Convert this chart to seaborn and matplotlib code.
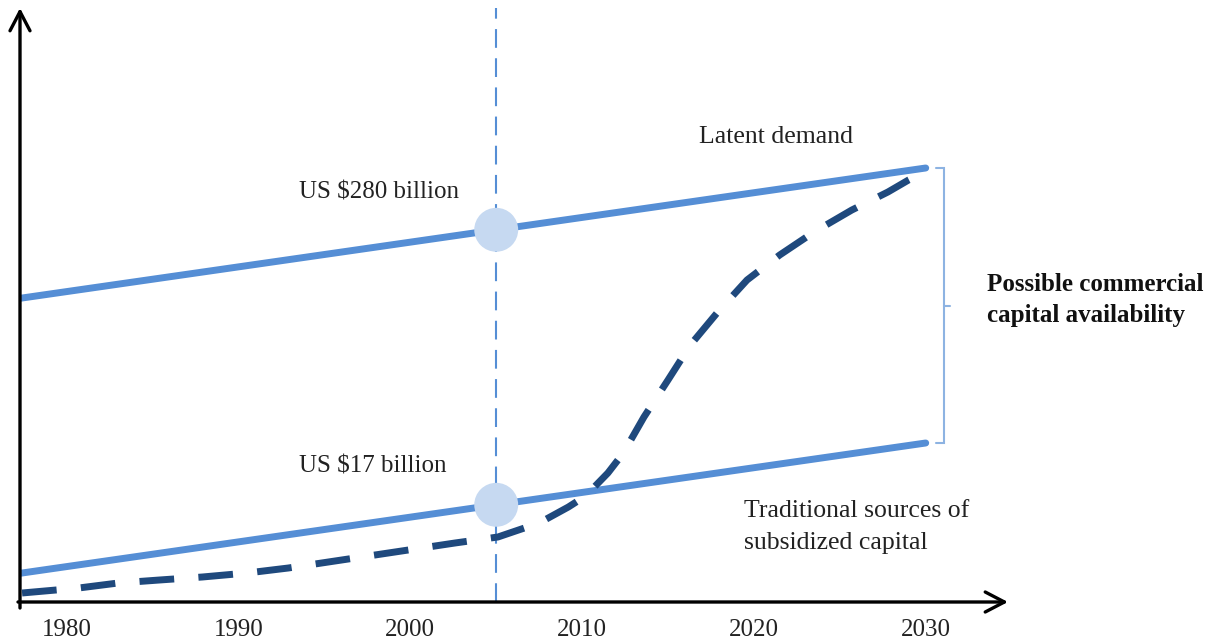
import matplotlib
matplotlib.use("Agg")
import matplotlib.pyplot as plt
import seaborn as sns
import pandas as pd

# ---------------- data ----------------
tick_years = [1980, 1990, 2000, 2010, 2020, 2030]
tick_labels = ["1980", "1990", "2000", "2010", "2020", "2030"]

line_years = [1977, 2030]
latent_demand = [303, 434]
traditional = [28, 159]

curve_years = [1977.4, 1980.7, 1983.0, 1985.4, 1987.9, 1990.5, 1992.9, 2002.6,
               2005.1, 2007.5, 2009.2, 2010.2, 2011.5, 2012.4, 2013.6, 2015.0,
               2016.3, 2017.9, 2019.6, 2021.5, 2023.5, 2025.7, 2027.8, 2029.0,
               2029.7]
curve_values = [9, 14, 19, 22, 25, 29, 34, 59,
                65, 79, 95, 106, 129, 149, 185, 222,
                257, 290, 322, 347, 370, 392, 410, 422,
                428]

marker_year = 2005
marker_values = [latent_demand[0] + (latent_demand[1] - latent_demand[0]) * (marker_year - line_years[0]) / (line_years[1] - line_years[0]),
                 traditional[0] + (traditional[1] - traditional[0]) * (marker_year - line_years[0]) / (line_years[1] - line_years[0])]

label_high = "US $280 billion"
label_low = "US $17 billion"
label_latent = "Latent demand"
label_trad = "Traditional sources of\nsubsidized capital"
label_possible = "Possible commercial\ncapital availability"

# ---------------- style ----------------
sns.set_theme(style="white")
plt.rcParams['font.family'] = ['Liberation Serif', 'DejaVu Serif']

LINE_BLUE = "#558ED5"
DARK_BLUE = "#1F497D"
CIRCLE = "#C6D9F1"
BRACKET = "#8DB3E2"

W, H = 1212, 642
fig = plt.figure(figsize=(W / 100, H / 100), dpi=100)
fig.patch.set_facecolor("white")

# axes box in pixels: left 20, right 1008, bottom 602, top 8
x0, x1, yb, yt = 20, 1008, 602, 8
ax = fig.add_axes([x0 / W, (H - yb) / H, (x1 - x0) / W, (yb - yt) / H])
px_per_year = (924 - 65) / 50.0
ax.set_xlim(1980 - (65 - x0) / px_per_year - 0.1, 1980 + (x1 - 65) / px_per_year - 0.1)
ax.set_ylim(0, yb - yt)
ax.set_facecolor("none")
for s in ax.spines.values():
    s.set_visible(False)

# lines
df_lines = pd.DataFrame({"year": line_years * 2,
                         "value": latent_demand + traditional,
                         "series": ["Latent demand"] * 2 + ["Traditional"] * 2})
sns.lineplot(data=df_lines, x="year", y="value", units="series", estimator=None,
             color=LINE_BLUE, lw=5, ax=ax, legend=False, zorder=3)

df_curve = pd.DataFrame({"year": curve_years, "value": curve_values})
sns.lineplot(data=df_curve, x="year", y="value", color=DARK_BLUE, lw=5,
             linestyle=(0, (5.0, 3.5)), ax=ax, legend=False, zorder=4)

# vertical dashed line
ax.axvline(marker_year, color=LINE_BLUE, lw=1.5, linestyle=(0, (9, 5)), zorder=2)

# circles
sns.scatterplot(x=[marker_year] * 2, y=marker_values, s=1000, color=CIRCLE,
                edgecolor="none", ax=ax, zorder=5, legend=False)

# bracket
bx = line_years[1] + 1.05
bl = line_years[1] + 0.6
br = line_years[1] + 1.4
mid = (latent_demand[1] + traditional[1]) / 2
ax.plot([bl, bx, bx, bl], [latent_demand[1], latent_demand[1], traditional[1], traditional[1]],
        color=BRACKET, lw=1.5, clip_on=False, solid_joinstyle="miter")
ax.plot([bx, br], [mid, mid], color=BRACKET, lw=1.5, clip_on=False)

# axes arrows
arrow = dict(arrowstyle="->,head_length=1.15,head_width=0.6", lw=2.4, color="black",
             shrinkA=0, shrinkB=0)
ax.annotate("", xy=(0, 1), xytext=(0, -6 / (yb - yt)), xycoords="axes fraction",
            arrowprops=arrow, annotation_clip=False)
ax.annotate("", xy=(1, 0), xytext=(-2 / (x1 - x0), 0), xycoords="axes fraction",
            arrowprops=arrow, annotation_clip=False)

# ticks
ax.set_xticks(tick_years)
ax.set_xticklabels(tick_labels)
ax.set_yticks([])
ax.tick_params(axis="x", length=0, pad=12, labelsize=18, colors="#222222")
ax.set_xlabel("")
ax.set_ylabel("")

# texts
fs = 18
ax.text(1993.5, 409, label_high, fontsize=fs, va="center", ha="left", color="#222222")
ax.text(1993.5, 135, label_low, fontsize=fs, va="center", ha="left", color="#222222")
ax.text(2016.8, 465, label_latent, fontsize=18.5, va="center", ha="left", color="#222222")
ax.text(2019.4, 75, label_trad, fontsize=18.5, va="center", ha="left", color="#222222",
        linespacing=1.55)
ax.text(2033.55, 302, label_possible, fontsize=18, va="center", ha="left",
        fontweight="bold", color="#111111", linespacing=1.4)

fig.savefig("out.png", dpi=100, facecolor="white")
